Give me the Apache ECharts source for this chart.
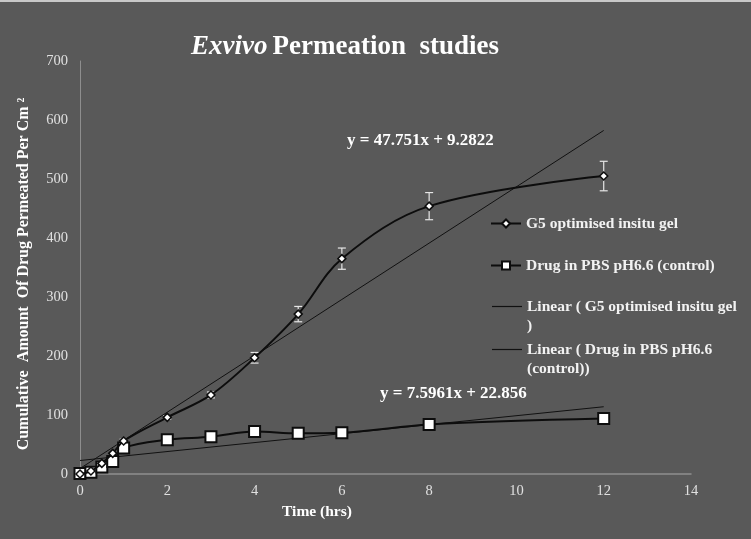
<!DOCTYPE html>
<html><head><meta charset="utf-8">
<script src="https://cdn.jsdelivr.net/npm/echarts@6/dist/echarts.min.js"></script>
<style>html,body{margin:0;padding:0;background:#595959;}#c{width:751px;height:539px;}</style>
</head><body><div id="c"></div>
<script>
const timeHrs = [0, 0.25, 0.5, 0.75, 1, 2, 3, 4, 5, 6, 8, 12];
const g5Values = [0, 5, 18, 35, 56, 96, 134, 197, 271, 365, 454, 505];
const g5Errors = [0, 1, 2, 2, 3, 3, 5, 9, 13, 18, 23, 25];
const controlValues = [1, 3, 12, 21, 44, 58, 63, 72, 69, 70, 84, 94];
const g5Fit = [47.751, 9.2822];
const controlFit = [7.5961, 22.856];
const xTicks = [0, 2, 4, 6, 8, 10, 12, 14];
const yTicks = [0, 100, 200, 300, 400, 500, 600, 700];
const seriesNames = ['G5 optimised insitu gel', 'Drug in PBS pH6.6 (control)', 'Linear ( G5 optimised insitu gel\n)', 'Linear ( Drug in PBS pH6.6\n(control))'];

const F = 'Liberation Serif, Times New Roman, serif';
const pair = (xs, ys) => xs.map((x, i) => [x, ys[i]]);
const fitLine = (c) => [[timeHrs[0], c[0]*timeHrs[0]+c[1]], [timeHrs[timeHrs.length-1], c[0]*timeHrs[timeHrs.length-1]+c[1]]];
const errData = timeHrs.map((x, i) => [x, g5Values[i]-g5Errors[i], g5Values[i]+g5Errors[i]]);

const chart = echarts.init(document.getElementById('c'));
const legendText = {color:'#f2f2f2', fontFamily:F, fontWeight:'bold', fontSize:15.5, lineHeight:19};
function leg(name, top, left, plain){
  const item = plain ? {name:name, icon:'rect', itemStyle:{color:'#111'}} : name;
  const o = {data:[item], orient:'vertical', left:left, top:top, itemWidth:30, itemHeight: plain ? 1.2 : 10,
    textStyle:legendText, selectedMode:false, padding:0, itemGap:0};
  if (plain) o.formatter = n => ' \n' + n;
  return o;
}
chart.setOption({
  backgroundColor:'#595959',
  animation:false,
  grid:{left:80, right:60, top:61, bottom:65},
  xAxis:{type:'value', min:xTicks[0], max:xTicks[xTicks.length-1], interval:2,
    axisLine:{lineStyle:{color:'#8e8e8e', width:1.5}}, axisTick:{show:false}, splitLine:{show:false},
    axisLabel:{color:'#e0e0e0', fontFamily:F, fontSize:14.5, margin:10}},
  yAxis:{type:'value', min:yTicks[0], max:yTicks[yTicks.length-1], interval:100,
    axisLine:{show:true, lineStyle:{color:'#8e8e8e', width:1}}, axisTick:{show:false}, splitLine:{show:false},
    axisLabel:{color:'#e0e0e0', fontFamily:F, fontSize:14.5, margin:12}},
  title:{text:'{i|Exvivo} {b|Permeation  studies}', left:186, top:29,
    textStyle:{rich:{i:{fontFamily:F, fontStyle:'italic', fontSize:27, color:'#fff'}, b:{fontFamily:F, fontWeight:'bold', fontSize:27, color:'#fff'}}}},
  legend:[leg(seriesNames[0], 214, 490), leg(seriesNames[1], 256, 490), leg(seriesNames[2], 278, 492, true), leg(seriesNames[3], 321, 492, true)],
  graphic:[
    {type:'rect', shape:{x:0,y:0,width:751,height:2}, style:{fill:'#c8c8c8'}},
    {type:'text', x:347, y:132, style:{text:'y = 47.751x + 9.2822', fill:'#fff', font:'bold 17px '+F}},
    {type:'text', x:380, y:385, style:{text:'y = 7.5961x + 22.856', fill:'#fff', font:'bold 17px '+F}},
    {type:'text', x:317, y:512, style:{text:'Time (hrs)', fill:'#fff', font:'bold 15.5px '+F, textAlign:'center', textVerticalAlign:'middle'}},
    {type:'text', x:24, y:274, rotation:Math.PI/2, style:{text:'Cumulative  Amount  Of Drug Permeated Per Cm ²', fill:'#fff', font:'bold 16px '+F, textAlign:'center', textVerticalAlign:'middle'}}
  ],
  series:[
    {name:seriesNames[2], type:'line', data:fitLine(g5Fit), symbol:'none', lineStyle:{color:'#111', width:1}, itemStyle:{color:'#111'}, z:2},
    {name:seriesNames[3], type:'line', data:fitLine(controlFit), symbol:'none', lineStyle:{color:'#111', width:1}, itemStyle:{color:'#111'}, z:2},
    {name:'err', type:'custom', data:errData, z:3,
      renderItem:function(params, api){
        const lo = api.coord([api.value(0), api.value(1)]);
        const hi = api.coord([api.value(0), api.value(2)]);
        if (hi[1] - lo[1] > -3) return null;
        const w = 4;
        const st = {stroke:'#e6e6e6', lineWidth:1.2};
        return {type:'group', children:[
          {type:'line', shape:{x1:lo[0], y1:lo[1], x2:hi[0], y2:hi[1]}, style:st},
          {type:'line', shape:{x1:lo[0]-w, y1:lo[1], x2:lo[0]+w, y2:lo[1]}, style:st},
          {type:'line', shape:{x1:hi[0]-w, y1:hi[1], x2:hi[0]+w, y2:hi[1]}, style:st}
        ]};
      }},
    {name:seriesNames[1], type:'line', data:pair(timeHrs, controlValues), smooth:0.35, symbol:'rect', symbolSize:11,
      lineStyle:{color:'#0d0d0d', width:2}, itemStyle:{color:'#fff', borderColor:'#0d0d0d', borderWidth:2}, z:4},
    {name:seriesNames[0], type:'line', data:pair(timeHrs, g5Values), smooth:0.35, symbol:'diamond', symbolSize:8,
      lineStyle:{color:'#0d0d0d', width:2}, itemStyle:{color:'#fff', borderColor:'#0d0d0d', borderWidth:1.5}, z:5}
  ]
});
</script></body></html>
